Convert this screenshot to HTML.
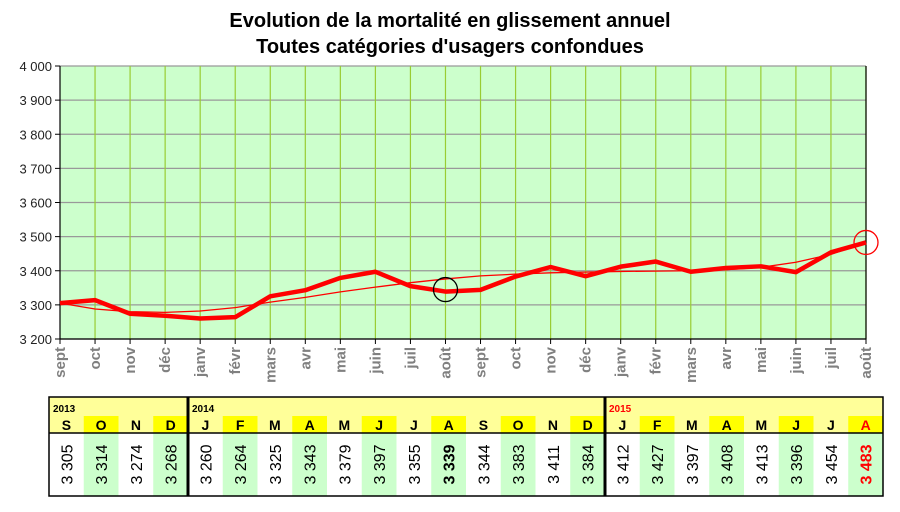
<!DOCTYPE html>
<html><head><meta charset="utf-8"><style>
body{margin:0;background:#fff;font-family:"Liberation Sans",Arial,sans-serif}
svg{display:block}
</style></head><body>
<svg id="c" width="900" height="512">
<text x="450" y="27" text-anchor="middle" font-size="20" font-weight="bold">Evolution de la mortalité en glissement annuel</text>
<text x="450" y="53" text-anchor="middle" font-size="20" font-weight="bold">Toutes catégories d'usagers confondues</text>
<rect x="60" y="66" width="806" height="273" fill="#ccffcc"/>
<g id="grid"></g><g id="axes"></g><g id="series"></g><g id="table"></g>
</svg>
<script>
const months=["sept","oct","nov","déc","janv","févr","mars","avr","mai","juin","juil","août","sept","oct","nov","déc","janv","févr","mars","avr","mai","juin","juil","août"];
const letters=["S","O","N","D","J","F","M","A","M","J","J","A","S","O","N","D","J","F","M","A","M","J","J","A"];
const values=[3305,3314,3274,3268,3260,3264,3325,3343,3379,3397,3355,3339,3344,3383,3411,3384,3412,3427,3397,3408,3413,3396,3454,3483];
const trend=[3305,3288,3280,3278,3282,3292,3308,3322,3338,3352,3365,3376,3385,3390,3394,3396,3398,3399,3400,3403,3410,3425,3448,3483];
const yTicks=[3200,3300,3400,3500,3600,3700,3800,3900,4000];
const years=[{label:"2013",start:0,n:4,red:false},{label:"2014",start:4,n:12,red:false},{label:"2015",start:16,n:8,red:true}];
const NS="http://www.w3.org/2000/svg";
const X0=60,X1=866,Y0=339,Y1=66,YMIN=3200,YMAX=4000;
const xs=i=>X0+(X1-X0)*i/(months.length-1);
const ys=v=>Y0-(v-YMIN)/(YMAX-YMIN)*(Y0-Y1);
function mk(tag,attrs,parent,text){const e=document.createElementNS(NS,tag);for(const k in attrs)e.setAttribute(k,attrs[k]);if(text!==undefined)e.textContent=text;parent.appendChild(e);return e;}
const grid=document.getElementById('grid'),axes=document.getElementById('axes'),ser=document.getElementById('series'),tb=document.getElementById('table');
yTicks.forEach(t=>{
 const l=mk('line',{x1:X0,x2:X1,y1:ys(t),y2:ys(t),stroke:'#999','stroke-width':1.2},grid);
 
 
 const tx=mk('text',{x:52,y:ys(t)+5,'text-anchor':'end','font-size':13,fill:'#222'},axes,t.toString().replace(/(\d)(\d{3})$/,'$1 $2'));
 
 
 mk('line',{x1:X0-5,x2:X0,y1:ys(t),y2:ys(t),stroke:'#000'},axes);
});
months.forEach((m,i)=>{
 if(i>0){const l=mk('line',{x1:xs(i),x2:xs(i),y1:Y1,y2:Y0,stroke:'#99cc33','stroke-width':1.2},grid);
 
 }
 mk('line',{x1:xs(i),x2:xs(i),y1:Y0,y2:Y0+5,stroke:'#000'},axes);
 const tx=mk('text',{x:0,y:0,transform:`translate(${xs(i)+5},${Y0+8}) rotate(-90)`,'text-anchor':'end','font-size':15,'font-weight':'bold',fill:'#808080'},axes,m);
 
 
});
const ax=mk('path',{d:`M${X0},${Y1}V${Y0}H${X1}V${Y1}`,stroke:'#000',fill:'none','stroke-width':1.2},axes);


const tl=mk('polyline',{points:trend.map((v,i)=>xs(i)+','+ys(v)).join(' '),fill:'none',stroke:'#f00','stroke-width':1.3},ser);


const ml=mk('polyline',{points:values.map((v,i)=>xs(i)+','+ys(v)).join(' '),fill:'none',stroke:'#f00','stroke-width':4.5,'stroke-linejoin':'round'},ser);


const c1=mk('circle',{cx:xs(11),cy:ys(values[11])-2,r:12,fill:'none',stroke:'#000','stroke-width':1.3},ser);


const c2=mk('circle',{cx:xs(23),cy:ys(values[23]),r:12,fill:'none',stroke:'#f00','stroke-width':1.3},ser);


const TX=49,CW=34.75,T0=397,T1=416,T2=433,T3=496;
const cx=i=>TX+CW*i;
mk('rect',{x:TX,y:T0,width:CW*24,height:T2-T0,fill:'#ffff99'},tb);
letters.forEach((L,i)=>{
 const last=i===23;
 if(i%2===1)mk('rect',{x:cx(i),y:T1,width:CW,height:T2-T1,fill:'#ffff00'},tb);
 const lt=mk('text',{x:cx(i)+CW/2,y:T2-3,'text-anchor':'middle','font-size':14,'font-weight':'bold',fill:last?'#f00':'#000'},tb,L);
 
 
 mk('rect',{x:cx(i),y:T2,width:CW,height:T3-T2,fill:i%2===1?'#ccffcc':'#fff'},tb);
 const s=values[i].toString().replace(/(\d)(\d{3})$/,'$1 $2');
 const vt=mk('text',{x:0,y:0,transform:`translate(${cx(i)+CW/2+6},${(T2+T3)/2}) rotate(-90)`,'text-anchor':'middle','font-size':16,fill:last?'#f00':'#000','font-weight':(last||i===11)?'bold':'normal'},tb,s);
 
 
});
years.forEach(y=>{
 const t=mk('text',{x:cx(y.start)+4,y:T1-4,'font-size':10,'font-weight':'bold',fill:y.red?'#f00':'#000'},tb,y.label);
 
 
 if(y.start>0)mk('line',{x1:cx(y.start),x2:cx(y.start),y1:T0,y2:T3,stroke:'#000','stroke-width':3},tb);
});
mk('line',{x1:TX,x2:cx(24),y1:T2,y2:T2,stroke:'#000','stroke-width':1.5},tb);
mk('rect',{x:TX,y:T0,width:CW*24,height:T3-T0,fill:'none',stroke:'#000','stroke-width':1.5},tb);
</script>
</body></html>
